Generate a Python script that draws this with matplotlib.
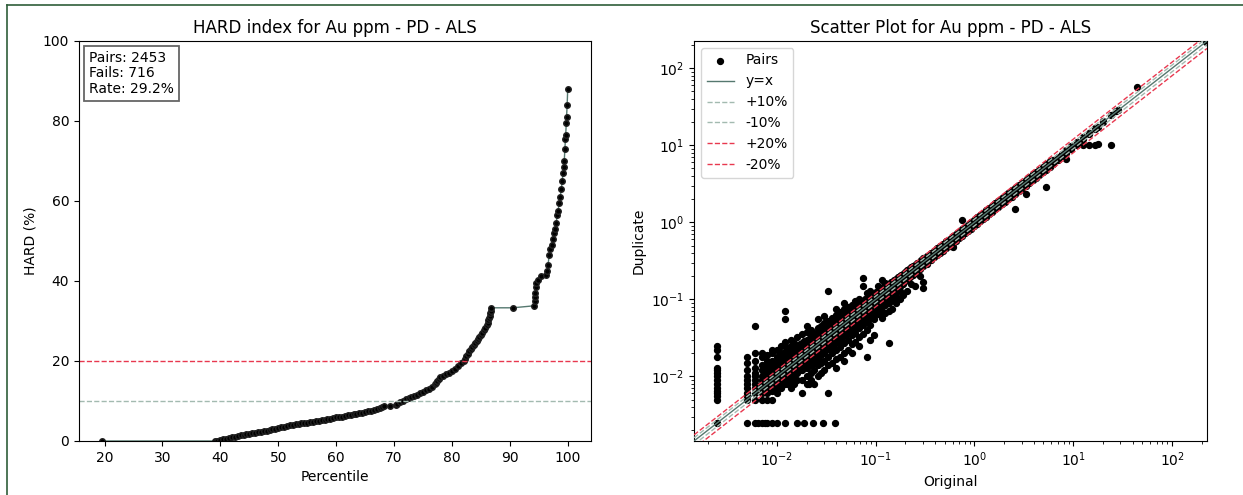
import numpy as np
import matplotlib
matplotlib.use("Agg")
import matplotlib.pyplot as plt
from matplotlib.lines import Line2D

# ---- HARD curve (percentile, HARD %) ----
pct_low = [19.6, 39.0, 39.5, 40.0, 40.5, 41.0, 41.5, 42.0, 42.5, 43.0, 43.5,
           44.0, 44.5, 45.0, 45.5, 46.0, 46.5, 47.0, 47.5, 48.0, 48.5, 49.0,
           49.5, 50.0, 50.5, 51.0, 51.5, 52.0, 52.5, 53.0, 53.5, 54.0, 54.5,
           55.0, 55.5, 56.0, 56.5, 57.0, 57.5, 58.0, 58.5, 59.0, 59.5, 60.0,
           60.5, 61.0, 61.5, 62.0, 62.5, 63.0, 63.5, 64.0, 64.5, 65.0, 65.5,
           66.0, 66.5, 67.0, 67.5, 68.0, 68.3]
hard_low = [0.0, 0.0, 0.1, 0.3, 0.5, 0.6, 0.8, 0.9, 1.1, 1.2, 1.4,
            1.5, 1.7, 1.8, 1.9, 2.0, 2.2, 2.3, 2.5, 2.6, 2.8, 3.0,
            3.1, 3.3, 3.4, 3.6, 3.7, 3.9, 4.0, 4.2, 4.3, 4.4, 4.5,
            4.6, 4.7, 4.8, 5.0, 5.1, 5.2, 5.3, 5.5, 5.6, 5.8, 5.9,
            6.0, 6.1, 6.3, 6.4, 6.6, 6.7, 6.8, 7.0, 7.1, 7.3, 7.4,
            7.6, 7.8, 8.0, 8.3, 8.5, 8.7]
pct_mid = [69.3, 70.3, 70.5, 71.0, 71.5, 72.0, 72.5, 73.0, 73.5, 74.0, 74.5,
           75.0, 75.5, 76.0, 76.5, 77.0, 77.25, 77.5, 77.75, 78.0, 78.5, 79.0,
           79.5, 80.0, 80.5, 81.0, 81.5, 82.0, 82.25, 82.5, 82.75, 83.0, 83.25,
           83.5, 83.75, 84.0, 84.25, 84.5, 84.75, 85.0, 85.25, 85.5, 85.75,
           86.0, 86.15, 86.3, 86.4, 86.5, 86.6, 86.7, 86.8]
hard_mid = [8.8, 9.1, 9.3, 9.7, 10.1, 10.4, 10.7, 11.0, 11.3, 11.6, 11.9,
            12.3, 12.7, 13.1, 13.6, 14.2, 14.6, 15.0, 15.5, 15.9, 16.3, 16.7,
            17.1, 17.6, 18.1, 18.7, 19.4, 20.1, 20.6, 21.2, 21.8, 22.4, 22.9,
            23.4, 23.9, 24.4, 24.9, 25.4, 25.9, 26.5, 27.1, 27.7, 28.3,
            29.0, 29.6, 30.2, 30.8, 31.3, 31.9, 32.5, 33.3]
pct_high = [90.5, 94.2, 94.3, 94.35, 94.4, 94.5, 94.6, 94.8, 95.3, 96.2, 96.5,
            96.6, 96.8, 97.0, 97.2, 97.4, 97.6, 97.8, 98.0, 98.2, 98.35, 98.5,
            98.7, 98.9, 99.05, 99.2, 99.3, 99.4, 99.5, 99.6, 99.65, 99.75,
            99.8, 99.9, 100.0]
hard_high = [33.3, 33.8, 35.0, 36.0, 37.0, 38.5, 39.5, 40.2, 41.2, 41.5, 42.5,
             44.0, 46.5, 48.0, 49.0, 50.5, 52.0, 53.0, 54.5, 56.5, 57.5, 59.5,
             61.0, 63.0, 65.0, 67.0, 68.5, 70.0, 73.0, 75.5, 76.5, 79.5,
             81.0, 84.0, 88.0]
stats_text = "Pairs: 2453\nFails: 716\nRate: 29.2%"

# ---- scatter pairs (original, duplicate) ----
col_x = [0.0025, 0.005, 0.006, 0.007, 0.008, 0.009]
col_y = [
    [0.0025, 0.005, 0.0055, 0.006, 0.0065, 0.007, 0.008, 0.009, 0.01, 0.011, 0.012, 0.013, 0.018, 0.022, 0.025],
    [0.005, 0.0055, 0.006, 0.007, 0.008, 0.009, 0.01, 0.012, 0.015, 0.018],
    [0.005, 0.006, 0.007, 0.008, 0.009, 0.01, 0.011, 0.013, 0.016, 0.02, 0.045],
    [0.005, 0.006, 0.007, 0.008, 0.009, 0.01, 0.012, 0.014, 0.018, 0.02],
    [0.005, 0.006, 0.007, 0.008, 0.009, 0.01, 0.011, 0.012, 0.014, 0.016, 0.019],
    [0.005, 0.0065, 0.008, 0.009, 0.01, 0.011, 0.012, 0.014, 0.016, 0.02, 0.022],
]
row_y = 0.0025
row_x = [0.005, 0.006, 0.0065, 0.007, 0.0075, 0.008, 0.009, 0.01, 0.012,
         0.016, 0.019, 0.023, 0.029, 0.039]

cloud_x = [0.010, 0.011, 0.012, 0.013, 0.014, 0.015, 0.016, 0.018, 0.020,
           0.022, 0.024, 0.026, 0.028, 0.030, 0.033, 0.036, 0.040, 0.044,
           0.048, 0.052, 0.057, 0.062, 0.068, 0.074, 0.081, 0.088, 0.096,
           0.105, 0.115, 0.125, 0.135, 0.148, 0.16, 0.175, 0.19, 0.21,
           0.23, 0.25, 0.28, 0.30]
cloud_y = [
    [0.006, 0.007, 0.008, 0.009, 0.01, 0.011, 0.012, 0.013, 0.015, 0.018, 0.022],
    [0.007, 0.008, 0.009, 0.010, 0.011, 0.012, 0.014, 0.016, 0.02, 0.025],
    [0.008, 0.009, 0.011, 0.012, 0.013, 0.015, 0.017, 0.021, 0.028, 0.055, 0.07],
    [0.008, 0.010, 0.012, 0.013, 0.014, 0.016, 0.019, 0.023],
    [0.007, 0.009, 0.011, 0.013, 0.014, 0.015, 0.017, 0.02, 0.025, 0.03],
    [0.008, 0.010, 0.012, 0.014, 0.015, 0.017, 0.019, 0.022, 0.027],
    [0.009, 0.011, 0.013, 0.015, 0.016, 0.018, 0.021, 0.024, 0.032],
    [0.006, 0.009, 0.012, 0.014, 0.016, 0.018, 0.02, 0.023, 0.027, 0.035],
    [0.008, 0.010, 0.013, 0.016, 0.018, 0.02, 0.022, 0.025, 0.03, 0.038, 0.045],
    [0.009, 0.011, 0.014, 0.017, 0.02, 0.022, 0.024, 0.027, 0.033, 0.04],
    [0.008, 0.012, 0.015, 0.019, 0.022, 0.024, 0.026, 0.03, 0.036],
    [0.010, 0.014, 0.017, 0.021, 0.024, 0.026, 0.029, 0.033, 0.042, 0.055],
    [0.011, 0.015, 0.019, 0.023, 0.026, 0.028, 0.031, 0.035, 0.045],
    [0.012, 0.016, 0.02, 0.025, 0.028, 0.03, 0.033, 0.038, 0.05, 0.06],
    [0.006, 0.014, 0.018, 0.023, 0.028, 0.031, 0.033, 0.036, 0.042, 0.052, 0.127],
    [0.015, 0.02, 0.025, 0.03, 0.034, 0.036, 0.04, 0.046, 0.058],
    [0.013, 0.017, 0.022, 0.028, 0.033, 0.038, 0.04, 0.043, 0.05, 0.062, 0.075],
    [0.018, 0.024, 0.03, 0.036, 0.041, 0.044, 0.048, 0.055, 0.068],
    [0.016, 0.02, 0.027, 0.034, 0.04, 0.045, 0.048, 0.052, 0.06, 0.075, 0.09],
    [0.022, 0.03, 0.037, 0.044, 0.049, 0.052, 0.057, 0.065, 0.08],
    [0.02, 0.026, 0.034, 0.042, 0.049, 0.054, 0.057, 0.062, 0.07, 0.085],
    [0.028, 0.037, 0.046, 0.053, 0.059, 0.062, 0.067, 0.076, 0.095],
    [0.025, 0.032, 0.042, 0.051, 0.058, 0.065, 0.068, 0.073, 0.082, 0.1],
    [0.036, 0.046, 0.056, 0.064, 0.07, 0.074, 0.08, 0.09, 0.15, 0.19],
    [0.018, 0.04, 0.052, 0.062, 0.07, 0.077, 0.081, 0.087, 0.097, 0.12],
    [0.03, 0.046, 0.058, 0.068, 0.077, 0.084, 0.088, 0.095, 0.105, 0.13],
    [0.034, 0.055, 0.066, 0.076, 0.085, 0.092, 0.096, 0.103, 0.115],
    [0.065, 0.075, 0.085, 0.094, 0.1, 0.105, 0.112, 0.125, 0.15],
    [0.058, 0.07, 0.085, 0.095, 0.104, 0.11, 0.115, 0.122, 0.135, 0.18],
    [0.067, 0.085, 0.1, 0.11, 0.119, 0.125, 0.132, 0.145, 0.165],
    [0.027, 0.07, 0.09, 0.105, 0.12, 0.13, 0.135, 0.143, 0.158],
    [0.075, 0.1, 0.12, 0.134, 0.142, 0.148, 0.156, 0.17],
    [0.09, 0.11, 0.13, 0.148, 0.155, 0.16, 0.168, 0.185],
    [0.1, 0.13, 0.15, 0.165, 0.175, 0.185, 0.2],
    [0.115, 0.16, 0.18, 0.19, 0.2, 0.215],
    [0.13, 0.18, 0.2, 0.21, 0.22, 0.24],
    [0.16, 0.2, 0.22, 0.23, 0.24, 0.26],
    [0.15, 0.22, 0.24, 0.25, 0.26, 0.28],
    [0.2, 0.25, 0.27, 0.28, 0.29, 0.31],
    [0.14, 0.17, 0.27, 0.29, 0.30, 0.32, 0.34],
]

# in-between lab values that fill the dense core of the cloud
core_x = [0.0105, 0.0115, 0.0125, 0.0135, 0.0145, 0.0155, 0.017, 0.019,
          0.021, 0.023, 0.025, 0.027, 0.029, 0.0315, 0.0345, 0.038, 0.042,
          0.046, 0.050, 0.0545, 0.0595, 0.065, 0.071, 0.0775, 0.0845, 0.092,
          0.100, 0.110, 0.120, 0.130, 0.142, 0.154, 0.168, 0.182, 0.200,
          0.220, 0.240, 0.265, 0.290]
core_y = [
    [0.008, 0.0095, 0.0115, 0.0135, 0.016], [0.0085, 0.0105, 0.0125, 0.015, 0.018],
    [0.009, 0.011, 0.0135, 0.016, 0.019, 0.024], [0.0095, 0.0115, 0.0145, 0.0175, 0.021],
    [0.0105, 0.0125, 0.0155, 0.0185, 0.022], [0.011, 0.0135, 0.0165, 0.0195, 0.024],
    [0.012, 0.0145, 0.0175, 0.021, 0.026], [0.0135, 0.016, 0.0195, 0.023, 0.029],
    [0.008, 0.015, 0.018, 0.0215, 0.025, 0.031], [0.016, 0.0195, 0.0235, 0.028, 0.034],
    [0.0175, 0.021, 0.0255, 0.03, 0.037], [0.019, 0.023, 0.0275, 0.032, 0.039],
    [0.02, 0.025, 0.0295, 0.035, 0.042], [0.022, 0.027, 0.032, 0.037, 0.045],
    [0.024, 0.029, 0.035, 0.041, 0.048], [0.026, 0.032, 0.038, 0.045, 0.053],
    [0.029, 0.035, 0.042, 0.049, 0.058], [0.032, 0.039, 0.046, 0.053, 0.062],
    [0.035, 0.042, 0.05, 0.058, 0.068], [0.038, 0.046, 0.0545, 0.063, 0.073],
    [0.042, 0.05, 0.0595, 0.068, 0.078], [0.046, 0.055, 0.065, 0.074, 0.085],
    [0.05, 0.06, 0.071, 0.081, 0.092], [0.055, 0.066, 0.0775, 0.088, 0.1],
    [0.06, 0.072, 0.0845, 0.096, 0.108], [0.066, 0.079, 0.092, 0.104, 0.117],
    [0.073, 0.087, 0.1, 0.112, 0.125], [0.082, 0.096, 0.11, 0.122, 0.135],
    [0.09, 0.105, 0.12, 0.133, 0.145], [0.1, 0.115, 0.13, 0.143, 0.156],
    [0.112, 0.127, 0.142, 0.155, 0.168], [0.125, 0.139, 0.154, 0.167, 0.18],
    [0.14, 0.153, 0.168, 0.182, 0.195], [0.155, 0.168, 0.182, 0.196, 0.21],
    [0.172, 0.186, 0.2, 0.215, 0.23], [0.19, 0.205, 0.22, 0.235, 0.25],
    [0.21, 0.225, 0.24, 0.256, 0.272], [0.235, 0.25, 0.265, 0.28, 0.298],
    [0.26, 0.275, 0.29, 0.305, 0.322],
]

diag_x = [0.33, 0.36, 0.39, 0.42, 0.45, 0.48, 0.52, 0.56, 0.6, 0.65, 0.7,
          0.75, 0.8, 0.86, 0.92, 1.0, 1.07, 1.15, 1.23, 1.32, 1.42, 1.52,
          1.63, 1.75, 1.9, 2.05, 2.2, 2.4, 2.6, 2.8, 3.0, 3.3, 3.6, 3.9,
          4.2, 4.5, 4.9, 5.3, 5.8, 6.3, 7.0, 7.7, 8.5, 9.5, 11.0, 12.5,
          14.5, 16.5, 18.0, 20.0, 24.0, 27.0, 28.5]
diag_y = [
    [0.29, 0.31, 0.34, 0.37], [0.32, 0.34, 0.37, 0.40], [0.35, 0.37, 0.40, 0.43], [0.38, 0.40, 0.43, 0.46],
    [0.40, 0.43, 0.46, 0.50], [0.43, 0.45, 0.49, 0.53], [0.46, 0.50, 0.54, 0.57], [0.50, 0.53, 0.57, 0.61],
    [0.48, 0.54, 0.58, 0.62, 0.66], [0.58, 0.62, 0.67, 0.71], [0.63, 0.66, 0.71, 0.76],
    [0.67, 0.72, 0.77, 0.82, 1.08], [0.72, 0.77, 0.82, 0.87], [0.78, 0.83, 0.88, 0.93],
    [0.83, 0.88, 0.95, 1.0], [0.9, 0.96, 1.03, 1.08], [0.96, 1.02, 1.10, 1.16],
    [1.04, 1.10, 1.18, 1.25], [1.11, 1.18, 1.26, 1.33], [1.19, 1.27, 1.35, 1.43],
    [1.28, 1.37, 1.45, 1.54], [1.37, 1.46, 1.56, 1.65], [1.47, 1.57, 1.67, 1.77],
    [1.58, 1.69, 1.80, 1.90], [1.72, 1.83, 1.95, 2.06], [1.85, 1.97, 2.10, 2.22],
    [1.98, 2.12, 2.26, 2.38], [2.16, 2.30, 2.46, 2.60], [2.35, 2.50, 2.66, 2.80, 1.5],
    [2.53, 2.70, 2.88, 3.02], [2.72, 2.90, 3.08, 3.24], [3.0, 3.18, 3.38, 3.55, 2.35],
    [3.26, 3.46, 3.68, 3.88], [3.55, 3.76, 3.98, 4.2], [3.82, 4.05, 4.30, 4.5],
    [4.1, 4.35, 4.60, 4.85], [4.45, 4.72, 5.0, 5.25], [4.85, 5.1, 5.4, 5.7, 2.9],
    [5.3, 5.6, 5.9, 6.2], [5.8, 6.1, 6.4], [6.5, 6.8, 7.1], [7.2, 7.5, 7.8],
    [8.0, 8.3, 8.7, 6.6], [9.0, 9.3, 9.8], [10.0, 10.6, 11.2], [10.0, 12.0, 12.7],
    [10.0, 14.0, 14.6], [16.2, 16.8, 10.1], [17.5, 10.4], [19.8, 20.4], [10.0, 24.5],
    [27.5], [28.8],
]
extra_x = [44.0, 222.0]
extra_y = [58.0, 222.0]

axis_lo, axis_hi = 1.45e-3, 226.0

orig, dup = [], []
for xs, ys in [(col_x, col_y), (cloud_x, cloud_y), (core_x, core_y), (diag_x, diag_y)]:
    for xv, yl in zip(xs, ys):
        orig += [xv] * len(yl)
        dup += yl
orig += row_x
dup += [row_y] * len(row_x)
orig += extra_x
dup += extra_y

line_c = "#55786f"
band10_c = "#a3bab0"
band20_c = "#e8384f"

fig = plt.figure(figsize=(12.43, 4.95), dpi=100)
ax1 = fig.add_axes([79 / 1243, 54 / 495, 512 / 1243, 400 / 495])
ax2 = fig.add_axes([694 / 1243, 54 / 495, 513 / 1243, 400 / 495])

# screenshot frame
fig.add_artist(Line2D([7 / 1243, 7 / 1243], [0, 1 - 5 / 495], color="#2f5d3a", lw=1.2))
fig.add_artist(Line2D([7 / 1243, 1], [1 - 5 / 495, 1 - 5 / 495], color="#2f5d3a", lw=1.2))

# left: HARD curve
pct = pct_low + pct_mid + pct_high
hard = hard_low + hard_mid + hard_high
ax1.plot(pct, hard, "-o", color=line_c, lw=1, ms=4, mfc="black", mec="#222222")
ax1.axhline(20, color=band20_c, ls="--", lw=1)
ax1.axhline(10, color=band10_c, ls="--", lw=1)
ax1.set_ylim(0, 100)
ax1.set_title("HARD index for Au ppm - PD - ALS", fontsize=12)
ax1.set_xlabel("Percentile")
ax1.set_ylabel("HARD (%)")
ax1.text(0.02, 0.976, stats_text, transform=ax1.transAxes, va="top", ha="left",
         fontsize=10, linespacing=1.15,
         bbox=dict(boxstyle="square,pad=0.35", fc="white", ec="#666666", lw=1.3))

# right: scatter
lim = np.array([axis_lo, axis_hi])
ax2.scatter(orig, dup, s=18, color="black", label="Pairs", zorder=2)
ax2.plot(lim, lim, color=line_c, lw=1, label="y=x", zorder=3)
ax2.plot(lim, lim * 1.1, color=band10_c, ls="--", lw=1, label="+10%", zorder=3)
ax2.plot(lim, lim * 0.9, color=band10_c, ls="--", lw=1, label="-10%", zorder=3)
ax2.plot(lim, lim * 1.2, color=band20_c, ls="--", lw=1, label="+20%", zorder=3)
ax2.plot(lim, lim * 0.8, color=band20_c, ls="--", lw=1, label="-20%", zorder=3)
ax2.set_xscale("log")
ax2.set_yscale("log")
ax2.set_xlim(axis_lo, axis_hi)
ax2.set_ylim(axis_lo, axis_hi)
ax2.set_title("Scatter Plot for Au ppm - PD - ALS", fontsize=12)
ax2.set_xlabel("Original")
ax2.set_ylabel("Duplicate")
ax2.legend(loc="upper left", fontsize=10)

fig.savefig("out.png", dpi=100)
